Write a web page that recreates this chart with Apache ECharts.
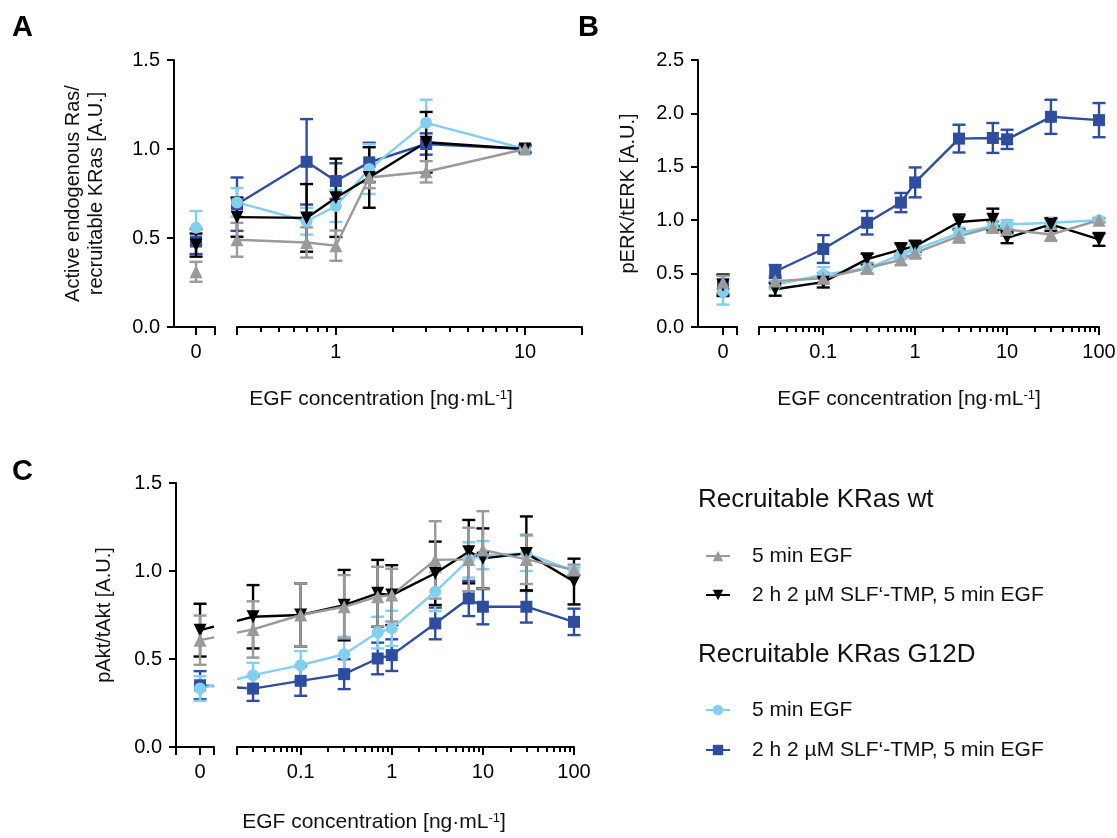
<!DOCTYPE html>
<html><head><meta charset="utf-8">
<script src="https://cdn.jsdelivr.net/npm/echarts@6/dist/echarts.min.js"></script>
<style>html,body{margin:0;padding:0;background:#fff}#c{width:1117px;height:838px}</style>
</head><body><div id="c"></div>
<script>
const FONT = '"Liberation Sans", Arial, Helvetica, sans-serif';
const GREY = '#9a9a9a', BLACK = '#000000', LIGHT = '#82cff0', DARK = '#2f4d9e';

// ---- Panel A ----
const A_x = [0, 0.3, 0.7, 1, 1.5, 3, 10];
const A_wt5 = [0.31, 0.49, 0.475, 0.457, 0.84, 0.872, 1.0];
const A_wt5_err = [0.056, 0.095, 0.085, 0.085, 0.06, 0.06, 0.02];
const A_wtSLF = [0.46, 0.617, 0.613, 0.726, 0.84, 1.038, 1.0];
const A_wtSLF_err = [0.065, 0.11, 0.19, 0.22, 0.17, 0.17, 0.02];
const A_g12d5 = [0.557, 0.70, 0.594, 0.68, 0.887, 1.147, 1.0];
const A_g12d5_err = [0.095, 0.08, 0.075, 0.09, 0.14, 0.13, 0.02];
const A_g12dSLF = [0.48, 0.69, 0.928, 0.82, 0.925, 1.028, 1.0];
const A_g12dSLF_err = [0.07, 0.15, 0.24, 0.1, 0.11, 0.06, 0.02];

// ---- Panel B ----
const B_x = [0, 0.03, 0.1, 0.3, 0.7, 1, 3, 7, 10, 30, 100];
const B_wt5 = [0.42, 0.43, 0.457, 0.55, 0.63, 0.693, 0.85, 0.935, 0.913, 0.866, 1.0];
const B_wt5_err = [0.06, 0.05, 0.05, 0.05, 0.05, 0.05, 0.06, 0.05, 0.06, 0.06, 0.02];
const B_wtSLF = [0.39, 0.353, 0.42, 0.636, 0.724, 0.756, 0.983, 1.008, 0.835, 0.96, 0.82];
const B_wtSLF_err = [0.1, 0.06, 0.05, 0.05, 0.06, 0.05, 0.07, 0.1, 0.05, 0.06, 0.06];
const B_g12d5 = [0.33, 0.394, 0.49, 0.55, 0.677, 0.724, 0.88, 0.945, 0.96, 0.976, 1.0];
const B_g12d5_err = [0.12, 0.04, 0.07, 0.05, 0.04, 0.05, 0.05, 0.05, 0.04, 0.03, 0.02];
const B_g12dSLF = [0.4, 0.52, 0.73, 0.976, 1.165, 1.354, 1.764, 1.77, 1.757, 1.968, 1.937];
const B_g12dSLF_err = [0.09, 0.06, 0.13, 0.11, 0.09, 0.14, 0.13, 0.14, 0.09, 0.16, 0.16];

// ---- Panel C ----
const C_x = [0, 0.03, 0.1, 0.3, 0.7, 1, 3, 7, 10, 30, 100];
const C_wt5 = [0.607, 0.668, 0.75, 0.797, 0.854, 0.863, 1.063, 1.066, 1.12, 1.066, 1.006];
const C_wt5_err = [0.14, 0.16, 0.18, 0.18, 0.17, 0.15, 0.22, 0.18, 0.22, 0.14, 0.03];
const C_wtSLF = [0.664, 0.74, 0.75, 0.806, 0.873, 0.863, 0.987, 1.11, 1.072, 1.1, 0.94];
const C_wtSLF_err = [0.15, 0.18, 0.18, 0.2, 0.19, 0.17, 0.18, 0.18, 0.17, 0.21, 0.13];
const C_g12d5 = [0.332, 0.408, 0.465, 0.527, 0.65, 0.674, 0.882, 1.063, 1.09, 1.1, 1.0];
const C_g12d5_err = [0.07, 0.07, 0.08, 0.1, 0.09, 0.1, 0.11, 0.1, 0.08, 0.1, 0.02];
const C_g12dSLF = [0.351, 0.332, 0.376, 0.414, 0.503, 0.522, 0.702, 0.844, 0.797, 0.797, 0.711];
const C_g12dSLF_err = [0.08, 0.07, 0.085, 0.085, 0.09, 0.09, 0.09, 0.1, 0.1, 0.09, 0.075];

// ---- tick values / labels ----
const A_majorTicks = [0.3, 1, 10, 20];
const A_minorTicks = [0.4, 0.5, 0.6, 0.7, 0.8, 0.9, 2, 3, 4, 5, 6, 7, 8, 9];
const A_labels = [1, 10];
const BC_majorTicks = [0.02, 0.1, 1, 10, 100];
const BC_minorTicks = [0.03, 0.04, 0.05, 0.06, 0.07, 0.08, 0.09, 0.2, 0.3, 0.4, 0.5, 0.6, 0.7, 0.8, 0.9,
  2, 3, 4, 5, 6, 7, 8, 9, 20, 30, 40, 50, 60, 70, 80, 90];
const BC_labels = [0.1, 1, 10, 100];
const zeroLabels = [0];

const LEG_WT5 = 'wt|5 min EGF';
const LEG_WTSLF = 'wt|2 h 2 µM SLF‘-TMP, 5 min EGF';
const LEG_G5 = 'G12D|5 min EGF';
const LEG_GSLF = 'G12D|2 h 2 µM SLF‘-TMP, 5 min EGF';

const chart = echarts.init(document.getElementById('c'));

const LW = 2.4;
const GROUPS = [
  {key: 'g12dSLF', color: DARK, symbol: 'rect', rotate: 0, size: 12, legend: LEG_GSLF},
  {key: 'g12d5', color: LIGHT, symbol: 'circle', rotate: 0, size: 12, legend: LEG_G5},
  {key: 'wtSLF', color: BLACK, symbol: 'triangle', rotate: 180, size: 13, legend: LEG_WTSLF},
  {key: 'wt5', color: GREY, symbol: 'triangle', rotate: 0, size: 13, legend: LEG_WT5}
];

const PANELS = [
  {x: A_x, zx: 0, lx: 1, zy: 0, ly: 1, stub: false,
   s: {wt5: [A_wt5, A_wt5_err], wtSLF: [A_wtSLF, A_wtSLF_err], g12d5: [A_g12d5, A_g12d5_err], g12dSLF: [A_g12dSLF, A_g12dSLF_err]}},
  {x: B_x, zx: 3, lx: 4, zy: 2, ly: 3, stub: false,
   s: {wt5: [B_wt5, B_wt5_err], wtSLF: [B_wtSLF, B_wtSLF_err], g12d5: [B_g12d5, B_g12d5_err], g12dSLF: [B_g12dSLF, B_g12dSLF_err]}},
  {x: C_x, zx: 6, lx: 7, zy: 4, ly: 5, stub: true,
   s: {wt5: [C_wt5, C_wt5_err], wtSLF: [C_wtSLF, C_wtSLF_err], g12d5: [C_g12d5, C_g12d5_err], g12dSLF: [C_g12dSLF, C_g12dSLF_err]}}
];

function errRender(color) {
  return function (params, api) {
    const x = api.value(0), y = api.value(1), e = api.value(2);
    const t = api.coord([x, y + e]), b = api.coord([x, y - e]);
    const h = 6.5, st = {stroke: color, lineWidth: LW};
    return {type: 'group', children: [
      {type: 'line', shape: {x1: t[0], y1: t[1], x2: b[0], y2: b[1]}, style: st},
      {type: 'line', shape: {x1: t[0] - h, y1: t[1], x2: t[0] + h, y2: t[1]}, style: st},
      {type: 'line', shape: {x1: b[0] - h, y1: b[1], x2: b[0] + h, y2: b[1]}, style: st}
    ]};
  };
}

function stubRender(color, p, zeroPt, firstPt, inZero) {
  return function (params, api) {
    let p0, p1;
    if (inZero) {
      p0 = api.coord(zeroPt);
      p1 = chart.convertToPixel({xAxisIndex: p.lx, yAxisIndex: p.ly}, firstPt);
    } else {
      p0 = chart.convertToPixel({xAxisIndex: p.zx, yAxisIndex: p.zy}, zeroPt);
      p1 = api.coord(firstPt);
    }
    if (!p0 || !p1) return null;
    const cs = params.coordSys;
    const st = {stroke: color, lineWidth: LW};
    if (inZero) {
      const xe = cs.x + cs.width;
      const t = (xe - p0[0]) / (p1[0] - p0[0]);
      return {type: 'line', shape: {x1: p0[0], y1: p0[1], x2: xe, y2: p0[1] + t * (p1[1] - p0[1])}, style: st};
    } else {
      const xs = cs.x;
      const t = (xs - p0[0]) / (p1[0] - p0[0]);
      return {type: 'line', shape: {x1: xs, y1: p0[1] + t * (p1[1] - p0[1]), x2: p1[0], y2: p1[1]}, style: st};
    }
  };
}

const series = [];
PANELS.forEach(p => {
  GROUPS.forEach(g => {
    const vals = p.s[g.key][0], errs = p.s[g.key][1];
    const zeroPts = [], logPts = [];
    p.x.forEach((x, i) => { (x === 0 ? zeroPts : logPts).push([x, vals[i], errs[i]]); });
    series.push({type: 'custom', xAxisIndex: p.zx, yAxisIndex: p.zy, data: zeroPts, encode: {x: 0, y: 1},
      renderItem: errRender(g.color), silent: true, clip: false});
    series.push({type: 'custom', xAxisIndex: p.lx, yAxisIndex: p.ly, data: logPts, encode: {x: 0, y: 1},
      renderItem: errRender(g.color), silent: true, clip: false});
    if (p.stub) {
      const zp = [zeroPts[0][0], zeroPts[0][1]], fp = [logPts[0][0], logPts[0][1]];
      series.push({type: 'custom', xAxisIndex: p.zx, yAxisIndex: p.zy, data: [zp], encode: {x: 0, y: 1},
        renderItem: stubRender(g.color, p, zp, fp, true), silent: true, clip: false});
      series.push({type: 'custom', xAxisIndex: p.lx, yAxisIndex: p.ly, data: [fp], encode: {x: 0, y: 1},
        renderItem: stubRender(g.color, p, zp, fp, false), silent: true, clip: false});
    }
    series.push({type: 'line', name: g.legend, xAxisIndex: p.lx, yAxisIndex: p.ly,
      data: logPts.map(d => [d[0], d[1]]), symbol: g.symbol, symbolSize: g.size, symbolRotate: g.rotate,
      showAllSymbol: true, clip: false, silent: true,
      lineStyle: {color: g.color, width: LW}, itemStyle: {color: g.color}, emphasis: {disabled: true}});
    series.push({type: 'scatter', xAxisIndex: p.zx, yAxisIndex: p.zy,
      data: zeroPts.map(d => [d[0], d[1]]), symbol: g.symbol, symbolSize: g.size, symbolRotate: g.rotate,
      clip: false, silent: true, itemStyle: {color: g.color, opacity: 1}, emphasis: {disabled: true}});
  });
});

const AXC = '#000';
function grid(left, top, width, height) {
  return {left, top, width, height, containLabel: false, outerBoundsMode: 'none'};
}
function zeroX(gi, max, ticks) {
  return {type: 'value', gridIndex: gi, min: -1, max, position: 'bottom',
    axisLine: {show: true, onZero: false, lineStyle: {color: AXC, width: 2}},
    axisTick: {show: true, customValues: ticks, length: 8, lineStyle: {color: AXC, width: 2}},
    axisLabel: {show: true, customValues: zeroLabels, margin: 15, fontSize: 20, fontFamily: FONT, color: AXC,
      formatter: v => String(v)},
    splitLine: {show: false}};
}
function logMajor(gi, min, max, ticks, labels) {
  return {type: 'log', logBase: 10, gridIndex: gi, min, max, position: 'bottom',
    axisLine: {show: true, onZero: false, lineStyle: {color: AXC, width: 2}},
    axisTick: {show: true, customValues: ticks, length: 8, lineStyle: {color: AXC, width: 2}},
    axisLabel: {show: true, customValues: labels, margin: 15, fontSize: 20, fontFamily: FONT, color: AXC,
      formatter: v => String(+(+v).toPrecision(6))},
    splitLine: {show: false}, minorTick: {show: false}};
}
function logMinor(gi, min, max, ticks) {
  return {type: 'log', logBase: 10, gridIndex: gi, min, max, position: 'bottom',
    axisLine: {show: false, onZero: false},
    axisTick: {show: true, customValues: ticks, length: 5, lineStyle: {color: AXC, width: 2}},
    axisLabel: {show: false}, splitLine: {show: false}};
}
function yAx(gi, max, show, name, gap) {
  return {type: 'value', gridIndex: gi, min: 0, max, interval: 0.5, show, position: 'left',
    axisLine: {show: true, onZero: false, lineStyle: {color: AXC, width: 2}},
    axisTick: {show: true, length: 7, lineStyle: {color: AXC, width: 2}},
    axisLabel: {margin: 14, fontSize: 20, fontFamily: FONT, color: AXC, formatter: v => v.toFixed(1)},
    splitLine: {show: false},
    name: name || '', nameLocation: 'middle', nameGap: gap || 0,
    nameTextStyle: {fontSize: 20, fontFamily: FONT, color: '#111', lineHeight: 23}};
}

const legendBase = {
  orient: 'vertical', itemWidth: 24, itemHeight: 13, selectedMode: false,
  formatter: n => n.split('|')[1],
  textStyle: {fontSize: 21, fontFamily: FONT, color: '#111', lineHeight: 24, padding: [0, 0, 0, 17]}
};

const xTitle = 'EGF concentration [ng·mL{sup|-1}]';
const xTitleRich = {sup: {fontSize: 13, fontFamily: FONT, fill: '#111', verticalAlign: 'top', lineHeight: 14}};

const option = {
  backgroundColor: '#fff',
  animation: false,
  grid: [
    grid(174, 60, 41, 267), grid(237, 60, 345, 267),
    grid(698, 60, 39, 267), grid(759, 60, 340, 267),
    grid(176, 483, 38, 264), grid(237, 483, 337, 264)
  ],
  xAxis: [
    zeroX(0, 0.86, [0, 0.86]),
    logMajor(1, 0.3, 20, A_majorTicks, A_labels),
    logMinor(1, 0.3, 20, A_minorTicks),
    zeroX(2, 0.56, [0, 0.56]),
    logMajor(3, 0.02, 100, BC_majorTicks, BC_labels),
    logMinor(3, 0.02, 100, BC_minorTicks),
    zeroX(4, 0.58, [-1, 0, 0.58]),
    logMajor(5, 0.02, 100, BC_majorTicks, BC_labels),
    logMinor(5, 0.02, 100, BC_minorTicks)
  ],
  yAxis: [
    yAx(0, 1.5, true, 'Active endogenous Ras/\nrecruitable KRas [A.U.]', 66),
    yAx(1, 1.5, false),
    yAx(2, 2.5, true, 'pERK/tERK [A.U.]', 58),
    yAx(3, 2.5, false),
    yAx(4, 1.5, true, 'pAkt/tAkt [A.U.]', 60),
    yAx(5, 1.5, false)
  ],
  legend: [
    Object.assign({}, legendBase, {left: 700, top: 539, itemGap: 15, data: [LEG_WT5, LEG_WTSLF]}),
    Object.assign({}, legendBase, {left: 700, top: 693, itemGap: 16, data: [LEG_G5, LEG_GSLF]})
  ],
  graphic: [
    {type: 'text', x: 12, y: 28, style: {text: 'A', fontSize: 29, fontWeight: 'bold', fontFamily: FONT, fill: '#000', verticalAlign: 'middle'}},
    {type: 'text', x: 578, y: 28, style: {text: 'B', fontSize: 29, fontWeight: 'bold', fontFamily: FONT, fill: '#000', verticalAlign: 'middle'}},
    {type: 'text', x: 12, y: 472, style: {text: 'C', fontSize: 29, fontWeight: 'bold', fontFamily: FONT, fill: '#000', verticalAlign: 'middle'}},
    {type: 'text', x: 381, y: 399, style: {text: xTitle, rich: xTitleRich, fontSize: 21, fontFamily: FONT, fill: '#111', align: 'center', verticalAlign: 'middle'}},
    {type: 'text', x: 909, y: 399, style: {text: xTitle, rich: xTitleRich, fontSize: 21, fontFamily: FONT, fill: '#111', align: 'center', verticalAlign: 'middle'}},
    {type: 'text', x: 374, y: 822, style: {text: xTitle, rich: xTitleRich, fontSize: 21, fontFamily: FONT, fill: '#111', align: 'center', verticalAlign: 'middle'}},
    {type: 'text', x: 698, y: 500, style: {text: 'Recruitable KRas wt', fontSize: 26, fontFamily: FONT, fill: '#111', verticalAlign: 'middle'}},
    {type: 'text', x: 698, y: 655, style: {text: 'Recruitable KRas G12D', fontSize: 26, fontFamily: FONT, fill: '#111', verticalAlign: 'middle'}}
  ],
  series
};
chart.setOption(option);
</script>
</body></html>
